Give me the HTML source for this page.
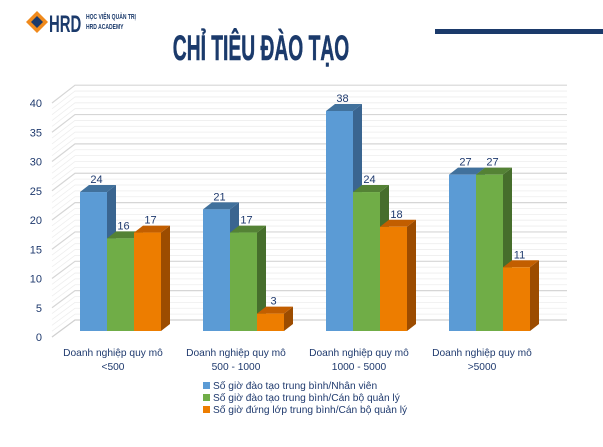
<!DOCTYPE html>
<html><head><meta charset="utf-8"><style>
body{margin:0;width:603px;height:442px;background:#fff;overflow:hidden;font-family:"Liberation Sans",sans-serif}
</style></head><body>
<svg width="603" height="442" xmlns="http://www.w3.org/2000/svg" id="chart">
<g>
<polygon points="37,11 48,22 37,33 26,22" fill="#f08a1c"/>
<polygon points="37,16 43,22 37,28 31,22" fill="#1b3a6b"/>
<text x="49" y="32" font-size="24" font-weight="bold" fill="#1b3a6b" transform="translate(49,0) scale(0.62,1) translate(-49,0)">HRD</text>
<text x="86" y="19" font-size="7" font-weight="bold" fill="#1b3a6b" transform="translate(86,0) scale(0.72,1) translate(-86,0)">HỌC VIỆN QUẢN TRỊ</text>
<text x="86" y="29" font-size="7" font-weight="bold" fill="#1b3a6b" transform="translate(86,0) scale(0.72,1) translate(-86,0)">HRD ACADEMY</text>
</g>
<rect x="435" y="29" width="168" height="5" fill="#1b3a6b"/>
<text x="261" y="60" font-size="35" font-weight="bold" fill="#1b3a6b" stroke="#1b3a6b" stroke-width="0.6" text-anchor="middle" transform="translate(261,0) scale(0.55,1) translate(-261,0)">CHỈ TIÊU ĐÀO TẠO</text>
<g id="grid"></g>
<g id="bars"></g>
<g id="labels"></g>
<g font-size="10.2" fill="#1f3a6e">
<rect x="203" y="382" width="7" height="7" fill="#5b9bd5"/><text x="213" y="389">Số giờ đào tạo trung bình/Nhân viên</text>
<rect x="203" y="394" width="7" height="7" fill="#70ad47"/><text x="213" y="401">Số giờ đào tạo trung bình/Cán bộ quản lý</text>
<rect x="203" y="406" width="7" height="7" fill="#ed7d00"/><text x="213" y="413">Số giờ đứng lớp trung bình/Cán bộ quản lý</text>
</g>
</svg>
<script>
const categories1=["Doanh nghiệp quy mô","Doanh nghiệp quy mô","Doanh nghiệp quy mô","Doanh nghiệp quy mô"];
const categories2=["<500","500 - 1000","1000 - 5000",">5000"];
const seriesA=[24,21,38,27];
const seriesB=[16,17,24,27];
const seriesC=[17,3,18,11];
const ticks=[0,5,10,15,20,25,30,35,40];
const NS="http://www.w3.org/2000/svg";
function mk(t,a,p){const e=document.createElementNS(NS,t);for(const k in a)e.setAttribute(k,a[k]);p.appendChild(e);return e;}
const yBack=v=>320-v*5.87, yFront=v=>337-v*5.85, yBar=v=>331-v*5.79;
const grid=document.getElementById('grid'),bars=document.getElementById('bars'),labels=document.getElementById('labels');
for(let v=0;v<=40;v++){
  const major=v%5===0;
  const l=mk('polyline',{points:`52,${yFront(v)} 75,${yBack(v)} 567,${yBack(v)}`,fill:'none',stroke:major?'#d6d6d6':'#eeeeee','stroke-width':major?1.2:0.8},grid);
  
  
}
mk('polyline',{points:`52,337 75,320 567,320`,fill:'none',stroke:'#d0d0d0'},grid);
ticks.forEach(t=>{
  const e=mk('text',{x:42,y:yFront(t)+4,'font-size':11,fill:'#1f3a6e','text-anchor':'end'},labels);
  e.textContent=t;
  
  
});
const cols=[["#5b9bd5","#41719c","#3a6590"],["#70ad47","#548235","#466e2c"],["#ed7d00","#c25e00","#9c4c00"]];
const series=[seriesA,seriesB,seriesC];
const dx=9,dy=-7,w=27;
categories1.forEach((c,i)=>{
  const gx=80+i*123;
  series.forEach((s,j)=>{
    const x=gx+j*w,v=s[i],top=yBar(v),bot=yBar(0);
    const g=mk('g',{},bars);
    
    
    mk('polygon',{points:`${x+w},${top} ${x+w+dx},${top+dy} ${x+w+dx},${bot+dy} ${x+w},${bot}`,fill:cols[j][2]},g);
    mk('polygon',{points:`${x},${top} ${x+dx},${top+dy} ${x+w+dx},${top+dy} ${x+w},${top}`,fill:cols[j][1]},g);
    mk('rect',{x:x,y:top,width:w,height:bot-top,fill:cols[j][0]},g);
    const t=mk('text',{x:x+w/2+3,y:top-9,'font-size':11,fill:'#1f3a6e','text-anchor':'middle'},labels);
    t.textContent=v;
    
    
  });
  const cx=113+i*123;
  const a=mk('text',{x:cx,y:356,'font-size':10.2,fill:'#1f3a6e','text-anchor':'middle'},labels);
  a.textContent=c;
  
  
  const b=mk('text',{x:cx,y:370,'font-size':10.2,fill:'#1f3a6e','text-anchor':'middle'},labels);
  b.textContent=categories2[i];
  
  
});
</script>
</body></html>
